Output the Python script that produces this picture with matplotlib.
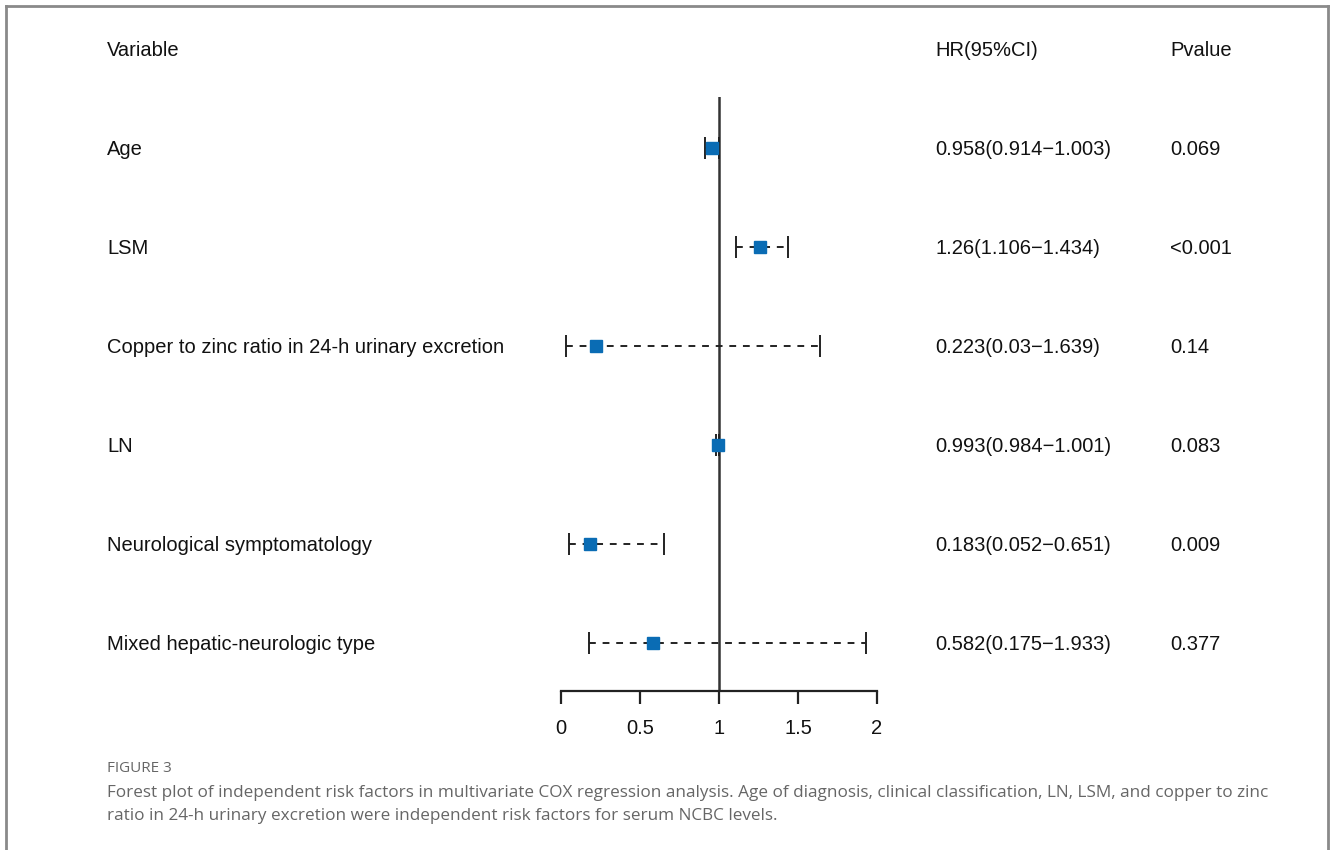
import matplotlib
matplotlib.use("Agg")
import matplotlib.pyplot as plt
import matplotlib.transforms as mtransforms

variables = ["Age", "LSM", "Copper to zinc ratio in 24-h urinary excretion",
             "LN", "Neurological symptomatology", "Mixed hepatic-neurologic type"]
hr = [0.958, 1.26, 0.223, 0.993, 0.183, 0.582]
lower = [0.914, 1.106, 0.03, 0.984, 0.052, 0.175]
upper = [1.003, 1.434, 1.639, 1.001, 0.651, 1.933]
hr_text = ["0.958(0.914\u22121.003)", "1.26(1.106\u22121.434)", "0.223(0.03\u22121.639)",
           "0.993(0.984\u22121.001)", "0.183(0.052\u22120.651)", "0.582(0.175\u22121.933)"]
pvalues = ["0.069", "<0.001", "0.14", "0.083", "0.009", "0.377"]
xticks = [0, 0.5, 1, 1.5, 2]
xticklabels = ["0", "0.5", "1", "1.5", "2"]

W, H = 1330, 850
plt.rcParams['font.family'] = ['Liberation Sans', 'DejaVu Sans']
fig = plt.figure(figsize=(W / 100, H / 100), dpi=100)

# frame
fc = '#8a8a8a'
fig.add_artist(plt.Line2D([6 / W, 6 / W], [0, 1 - 6 / H], transform=fig.transFigure, color=fc, lw=2))
fig.add_artist(plt.Line2D([6 / W, 1328 / W], [1 - 6 / H, 1 - 6 / H], transform=fig.transFigure, color=fc, lw=2))
fig.add_artist(plt.Line2D([1328 / W, 1328 / W], [0, 1 - 6 / H], transform=fig.transFigure, color=fc, lw=2))

x0, x1 = 561, 877
ytop, ybot = 97, 691
ax = fig.add_axes([x0 / W, 1 - ybot / H, (x1 - x0) / W, (ybot - ytop) / H])
n = len(variables)
ax.set_xlim(0, 2)
ax.set_ylim(n - 0.515, -0.515)
for s in ['top', 'right', 'left']:
    ax.spines[s].set_visible(False)
ax.spines['bottom'].set_linewidth(1.6)
ax.spines['bottom'].set_color('#222222')
ax.set_yticks([])
ax.set_xticks(xticks)
ax.set_xticklabels(xticklabels, fontsize=14.5, color='#111111')
ax.tick_params(axis='x', direction='out', length=9, width=1.6, color='#222222', pad=11)
ax.patch.set_visible(False)

ax.axvline(1, color='#333333', lw=1.8, zorder=2)

for i in range(n):
    ax.plot([lower[i], upper[i]], [i, i], color='#222222', lw=1.4, dashes=(3.5, 3.5), zorder=3)
    ax.plot([lower[i]], [i], marker='|', markersize=16, mew=1.4, color='#222222', zorder=3)
    ax.plot([upper[i]], [i], marker='|', markersize=16, mew=1.4, color='#222222', zorder=3)
    ax.plot([hr[i]], [i], marker='s', markersize=9, color='#0a6cb4', mec='#0a6cb4', zorder=4)

trans = mtransforms.blended_transform_factory(fig.transFigure, ax.transData)
fs = 14.5
for i in range(n):
    ax.text(107 / W, i, variables[i], transform=trans, fontsize=fs, va='center_baseline', ha='left', color='#111111')
    ax.text(935 / W, i, hr_text[i], transform=trans, fontsize=fs, va='center_baseline', ha='left', color='#111111')
    ax.text(1170 / W, i, pvalues[i], transform=trans, fontsize=fs, va='center_baseline', ha='left', color='#111111')

fig.text(107 / W, 1 - 48 / H, "Variable", fontsize=fs, va='center_baseline', ha='left', color='#111111')
fig.text(935 / W, 1 - 48 / H, "HR(95%CI)", fontsize=fs, va='center_baseline', ha='left', color='#111111')
fig.text(1170 / W, 1 - 48 / H, "Pvalue", fontsize=fs, va='center_baseline', ha='left', color='#111111')

cap_font = ['Open Sans', 'DejaVu Sans']
fig.text(107 / W, 1 - 768 / H, "FIGURE 3", fontsize=11, va='center', ha='left', color='#666666', family=cap_font)
fig.text(107 / W, 1 - 793 / H,
         "Forest plot of independent risk factors in multivariate COX regression analysis. Age of diagnosis, clinical classification, LN, LSM, and copper to zinc",
         fontsize=12.35, va='center', ha='left', color='#666666', family=cap_font)
fig.text(107 / W, 1 - 816 / H,
         "ratio in 24-h urinary excretion were independent risk factors for serum NCBC levels.",
         fontsize=12.35, va='center', ha='left', color='#666666', family=cap_font)

fig.savefig("out.png", dpi=100, facecolor='white')
